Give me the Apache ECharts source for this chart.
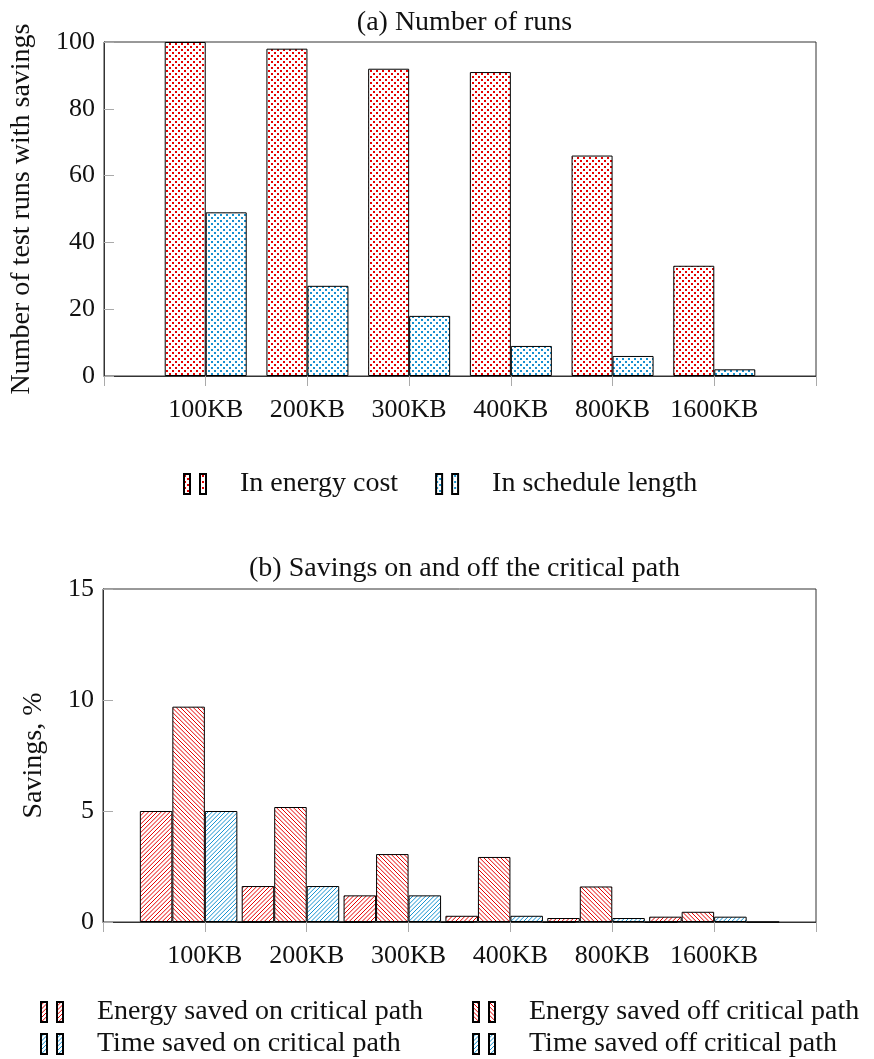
<!DOCTYPE html>
<html>
<head>
<meta charset="utf-8">
<script src="https://cdn.jsdelivr.net/npm/echarts@6/dist/echarts.min.js"></script>
<style>
html,body{margin:0;padding:0;background:#fff;}
#c{width:874px;height:1059px;}
</style>
</head>
<body>
<div id="c"></div>
<script>
// ---- data ----
const sizes = ['100KB', '200KB', '300KB', '400KB', '800KB', '1600KB'];
const runsEnergy = [100, 98, 92, 91, 66, 33];
const runsSchedule = [49, 27, 18, 9, 6, 2];
const energyOn = [5.0, 1.62, 1.2, 0.28, 0.18, 0.24];
const energyOff = [9.7, 5.18, 3.06, 2.93, 1.6, 0.46];
const timeOn = [5.0, 1.62, 1.2, 0.28, 0.18, 0.24];
const timeOff = [0, 0, 0, 0, 0, 0];
const runsTicks = [0, 20, 40, 60, 80, 100];
const savingsTicks = [0, 5, 10, 15];

// ---- styling helpers ----
const FONT = 'Liberation Serif';
const RED = '#e60000';
const BLUE = '#1592d0';
const cats = [''].concat(sizes, ['']);

function pattern(kind, color) {
  const c = document.createElement('canvas');
  const n = kind === 'dots' ? 6 : 17;
  c.width = n; c.height = n;
  const g = c.getContext('2d');
  g.fillStyle = '#ffffff'; g.fillRect(0, 0, n, n);
  if (kind === 'dots') {
    g.fillStyle = color;
    g.fillRect(1, 1, 2, 2);
    g.fillRect(4, 4, 2, 2);
  } else {
    // hatch lines with a spacing of n/4 px, periodic on the tile
    const step = n / 4;
    g.strokeStyle = color; g.lineWidth = 1;
    g.beginPath();
    for (let k = -6; k <= 10; k++) {
      const cc = k * step;
      if (kind === 'ne') { // x + y = cc
        g.moveTo(cc + 2, -2); g.lineTo(cc - n - 2, n + 2);
      } else {             // x - y = cc
        g.moveTo(cc - 2, -2); g.lineTo(cc + n + 2, n + 2);
      }
    }
    g.stroke();
  }
  return { image: c, repeat: 'repeat' };
}
function pairs(vals) { return vals.map((v, i) => [sizes[i], v]); }

const tickText = { fontFamily: FONT, fontSize: 26, color: '#111' };
const wordText = { fontFamily: FONT, fontSize: 28, color: '#111' };
const icon = 'path://M0,0H6V20H0Z M16,0H22V20H16Z';

function xAxisFor(gi) {
  return {
    gridIndex: gi, type: 'category', data: cats, boundaryGap: false,
    axisLine: { show: true, onZero: false, lineStyle: { color: '#333', width: 1 } },
    axisTick: { show: true, inside: false, length: 10, interval: 0, lineStyle: { color: '#aaa' } },
    axisLabel: Object.assign({ interval: 0, margin: 21 }, tickText),
    splitLine: { show: false }
  };
}
function yAxisFor(gi, max, interval, name, gap) {
  return {
    gridIndex: gi, type: 'value', min: 0, max: max, interval: interval,
    name: name, nameLocation: 'middle', nameGap: gap, nameTextStyle: wordText,
    axisLine: { show: true, lineStyle: { color: '#333', width: 1 } },
    axisTick: { show: true, inside: true, length: 10, lineStyle: { color: '#aaa' } },
    axisLabel: Object.assign({ margin: 9 }, tickText),
    splitLine: { show: false }
  };
}
function bar(name, gi, vals, pat, width) {
  return {
    name: name, type: 'bar', xAxisIndex: gi, yAxisIndex: gi,
    data: pairs(vals), barWidth: width, barGap: '0%',
    itemStyle: { color: pat, borderColor: '#000', borderWidth: 1 },
    emphasis: { disabled: true }, animation: false
  };
}
function legend(names, left, top) {
  return {
    data: names, orient: 'horizontal', left: left, top: top, padding: 0,
    icon: icon, itemWidth: 24, itemHeight: 20, itemGap: 37,
    textStyle: Object.assign({ padding: [0, 0, 0, 28] }, wordText),
    selectedMode: false
  };
}

const chart = echarts.init(document.getElementById('c'), null, { renderer: 'canvas' });
chart.setOption({
  animation: false,
  backgroundColor: '#fff',
  title: [
    { text: '(a) Number of runs', left: 459.5, top: 4, textAlign: 'center',
      textStyle: Object.assign({ fontWeight: 'normal' }, wordText) },
    { text: '(b) Savings on and off the critical path', left: 459.5, top: 550, textAlign: 'center',
      textStyle: Object.assign({ fontWeight: 'normal' }, wordText) }
  ],
  grid: [
    { left: 103, right: 58, top: 42, height: 334, show: true, borderColor: '#333', borderWidth: 1 },
    { left: 103, right: 58, top: 589, height: 333, show: true, borderColor: '#333', borderWidth: 1 }
  ],
  xAxis: [xAxisFor(0), xAxisFor(1)],
  yAxis: [
    yAxisFor(0, runsTicks[runsTicks.length - 1], runsTicks[1] - runsTicks[0], 'Number of test runs with savings', 68),
    yAxisFor(1, savingsTicks[savingsTicks.length - 1], savingsTicks[1] - savingsTicks[0], 'Savings, %', 55)
  ],
  legend: [
    legend(['In energy cost', 'In schedule length'], 183, 470),
    legend(['Energy saved on critical path'], 40, 998),
    legend(['Time saved on critical path'], 40, 1030),
    legend(['Energy saved off critical path'], 472, 998),
    legend(['Time saved off critical path'], 472, 1030)
  ],
  series: [
    bar('In energy cost', 0, runsEnergy, pattern('dots', RED), 41),
    bar('In schedule length', 0, runsSchedule, pattern('dots', BLUE), 41),
    bar('Energy saved on critical path', 1, energyOn, pattern('ne', RED), 32.5),
    bar('Energy saved off critical path', 1, energyOff, pattern('nw', RED), 32.5),
    bar('Time saved on critical path', 1, timeOn, pattern('ne', BLUE), 32.5),
    bar('Time saved off critical path', 1, timeOff, pattern('ne', BLUE), 32.5)
  ]
});
</script>
</body>
</html>
